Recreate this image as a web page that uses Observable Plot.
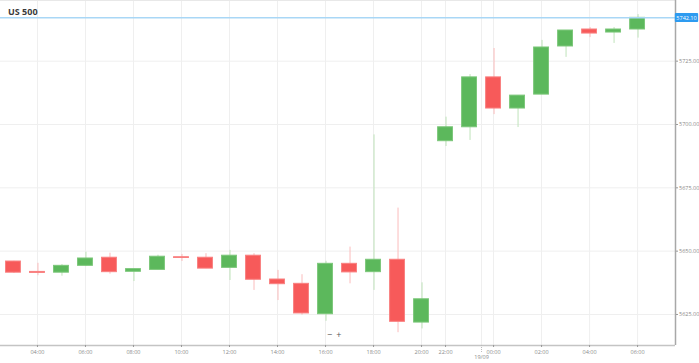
<!DOCTYPE html>
<html><head><meta charset="utf-8">
<script src="https://cdn.jsdelivr.net/npm/d3@7"></script>
<script src="https://cdn.jsdelivr.net/npm/@observablehq/plot@0.6"></script>
<style>
body{margin:0;background:#fff;font-family:"Open Sans",sans-serif;}
#wrap{position:relative;width:699px;height:363px;overflow:hidden;}
#title{position:absolute;left:8px;top:5px;font-size:9px;font-weight:bold;color:#3a3a3a;}
#zoom{position:absolute;left:327px;top:328px;font-size:9px;color:#555;letter-spacing:4px;}
</style></head><body>
<div id="wrap"><div id="title">US 500</div><div id="zoom">−+</div></div>
<script>
const hours  = ["03:00","04:00","05:00","06:00","07:00","08:00","09:00","10:00","11:00","12:00","13:00","14:00","15:00","16:00","17:00","18:00","19:00","20:00","22:00","23:00","00:00","01:00","02:00","03:00","04:00","05:00","06:00"];
const opens  = [5645.9,5641.8,5641.5,5644.2,5647.4,5641.85,5642.6,5647.6,5647.4,5643.4,5648.2,5638.8,5637.1,5625.1,5645.0,5641.7,5646.6,5621.8,5693.4,5698.9,5718.6,5706.3,5711.8,5730.8,5737.5,5736.3,5737.5];
const highs  = [5646.0,5645.2,5644.7,5649.6,5649.2,5643.0,5648.4,5648.7,5649.0,5650.3,5649.0,5642.4,5640.7,5646.0,5651.6,5695.9,5667.0,5637.5,5702.9,5719.7,5730.0,5711.4,5733.2,5737.1,5738.3,5738.3,5743.4];
const lows   = [5641.2,5640.3,5640.1,5643.9,5640.9,5638.0,5642.6,5645.9,5643.1,5638.4,5634.5,5630.5,5624.7,5622.3,5637.1,5634.5,5617.8,5619.3,5691.3,5693.7,5703.9,5698.8,5711.8,5726.5,5734.3,5732.0,5734.1];
const closes = [5641.5,5641.4,5644.2,5647.1,5641.7,5642.9,5647.8,5647.3,5643.1,5648.2,5638.7,5636.95,5625.4,5645.0,5641.6,5646.6,5622.1,5631.0,5698.9,5718.6,5706.3,5711.4,5730.4,5737.1,5735.9,5737.5,5742.1];
const xTickIdx = [1,3,5,7,9,11,13,15,17,18,20,22,24,26];
const dateIdx = 19.5;
const dateLabel = "19/09";
const yTicks = [5625,5650,5675,5700,5725];
const yDomain = [5612.75,5748.95];
const xDomain = [-0.54,27.58];

const data = hours.map((h,i)=>({i,h,open:opens[i],high:highs[i],low:lows[i],close:closes[i]}));
const up = d => d.close >= d.open;
const last = closes[closes.length-1];
const grid = "#efefef";

const chart = Plot.plot({
  width:699,height:363,marginLeft:0,marginRight:24,marginTop:0,marginBottom:18,
  style:{fontFamily:"Open Sans",fontSize:"5.5px",color:"#8a8a8a",background:"#fff"},
  x:{domain:xDomain,label:null},
  y:{domain:yDomain,label:null},
  marks:[
    Plot.gridY(yTicks,{stroke:grid,strokeOpacity:1}),
    Plot.gridX(xTickIdx.concat([dateIdx]),{stroke:grid,strokeOpacity:1}),
    Plot.ruleY([yDomain[1]],{stroke:"#e8e8e8"}),
    Plot.ruleX(data,{x:"i",y1:"low",y2:"high",dx:0.5,stroke:d=>up(d)?"#bfe3ba":"#fbbcbc"}),
    Plot.rect(data,{x1:d=>d.i-0.31,x2:d=>d.i+0.31,y1:"open",y2:"close",
      fill:d=>up(d)?"#5cb85c":"#f75a5a",stroke:d=>up(d)?"#7cc77a":"#f98080",strokeWidth:1}),
    Plot.ruleY([last],{stroke:"#a9d7f6",strokeWidth:1.5}),
    Plot.ruleX([xDomain[1]],{stroke:"#a8a8a8",strokeWidth:1.5}),
    Plot.ruleY([yDomain[0]],{stroke:"#c4c4c4",strokeWidth:1.5}),
    Plot.axisY({anchor:"right",ticks:yTicks,tickFormat:d3.format(".2f"),tickSize:2,tickPadding:1.5,stroke:"#999",label:null}),
    Plot.axisX({ticks:xTickIdx,tickFormat:i=>hours[i],tickSize:2,tickPadding:2.5,stroke:"#999",label:null}),
    Plot.axisX({ticks:[dateIdx],tickFormat:()=>dateLabel,tickSize:8,tickPadding:2,stroke:"#bbb",strokeDasharray:"1,1",label:null}),
    Plot.text([last],{x:()=>xDomain[1],y:d=>d,text:d=>d.toFixed(2),dx:11,fill:"white",fontSize:5.5,textAnchor:"middle",className:"pricelab"})
  ]
});
document.getElementById("wrap").prepend(chart);
const lab = chart.querySelector(".pricelab text");
if (lab) {
  const b = lab.getBBox();
  const r = document.createElementNS("http://www.w3.org/2000/svg","rect");
  r.setAttribute("x", b.x-1.5); r.setAttribute("y", b.y-0.5);
  r.setAttribute("width", b.width+3); r.setAttribute("height", b.height+1);
  r.setAttribute("rx", 1); r.setAttribute("fill", "#2e9bf0");
  const t = lab.getAttribute("transform");
  if (t) r.setAttribute("transform", t);
  lab.parentNode.insertBefore(r, lab);
}
</script>
</body></html>
